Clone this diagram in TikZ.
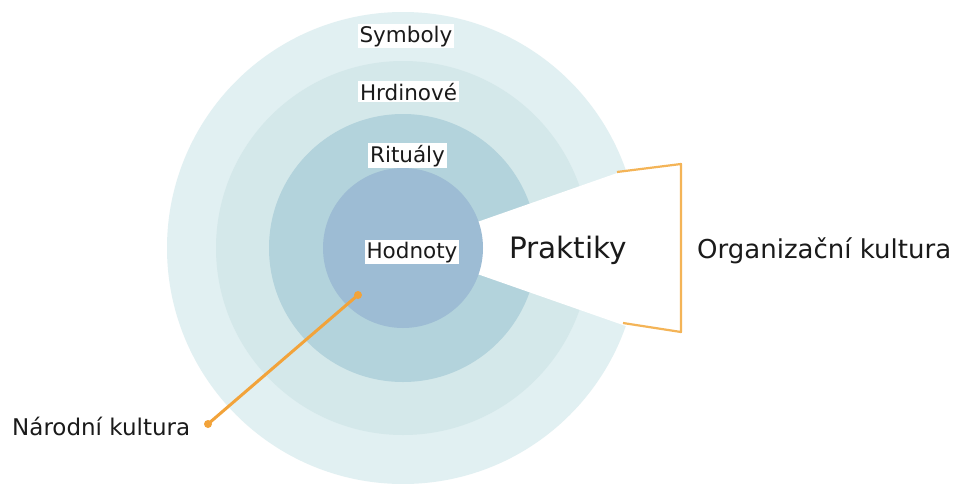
\documentclass[tikz,border=0pt]{standalone}
\usepackage{fontspec}
\setmainfont{DejaVu Sans}
\definecolor{ringA}{HTML}{E1F0F2}
\definecolor{ringB}{HTML}{D4E8EA}
\definecolor{ringC}{HTML}{B3D3DC}
\definecolor{ringD}{HTML}{9DBCD4}
\definecolor{txt}{HTML}{1A1A1A}
\definecolor{orangeA}{HTML}{F2A33A}
\definecolor{orangeB}{HTML}{F4B457}
\tikzset{
  ringlabel/.style={fill=white, text=txt, inner sep=2pt, anchor=base, font=\fontsize{21.5}{24}\selectfont},
  sidelabel/.style={text=txt, inner sep=0pt, anchor=base west},
  dotline/.style={draw=orangeA, line width=3pt, line cap=round},
  bracketline/.style={draw=orangeB, line width=2.2pt, line join=round},
}
\begin{document}
\begin{tikzpicture}[x=1pt, y=-1pt]
\useasboundingbox[fill=white] (0,0) rectangle (959,483);
\coordinate (c) at (403,248);
% rings
\fill[ringA] (c) circle[radius=236pt];
\fill[ringB] (c) circle[radius=187pt];
\fill[ringC] (c) circle[radius=134pt];
% white wedge
\fill[white] (c) -- ++(19.3:240pt) arc[start angle=19.3, end angle=-19.3, radius=240pt] -- cycle;
\fill[ringD] (c) circle[radius=80pt];
% labels
\node[ringlabel] (sym) at (406,42) {Symboly};
\node[ringlabel] (hrd) at (408.5,100) {Hrdinové};
\node[ringlabel] (rit) at (407.5,162) {Rituály};
\node[ringlabel] (hod) at (412,258) {Hodnoty};
\node[text=txt, inner sep=0pt, anchor=base, font=\fontsize{29.5}{32}\selectfont] (prak) at (568,258) {Praktiky};
\node[sidelabel, font=\fontsize{26}{30}\selectfont] (org) at (697,258) {Organizační kultura};
\node[sidelabel, font=\fontsize{23}{26}\selectfont] (nar) at (12,435) {Národní kultura};
% national culture pointer
\coordinate (ndot) at (358,295);
\coordinate (nend) at (208,424);
\draw[dotline] (ndot) -- (nend);
\fill[orangeA] (ndot) circle[radius=4pt];
\fill[orangeA] (nend) circle[radius=4pt];
% organizational culture bracket
\coordinate (b1) at (617,172);
\coordinate (b2) at (681,164);
\coordinate (b3) at (681,332);
\coordinate (b4) at (623,323);
\draw[bracketline] (b1) -- (b2) -- (b3) -- (b4);
\end{tikzpicture}
\end{document}
